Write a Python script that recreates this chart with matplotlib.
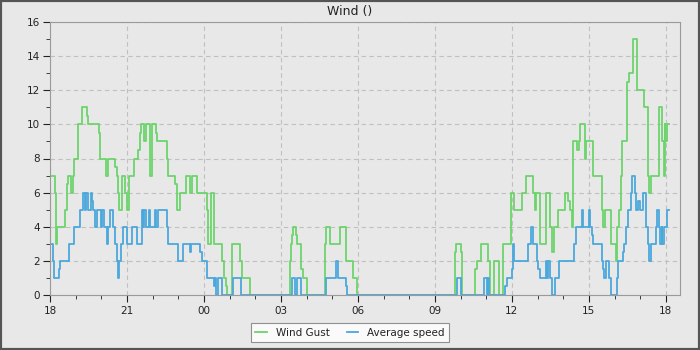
import matplotlib
matplotlib.use('Agg')
import matplotlib.pyplot as plt
import matplotlib.dates as mdates
from matplotlib.patches import Rectangle
import pandas as pd

# change points of the step series (local time, value)
gust_times = ['18:00', '18:12', '18:14', '18:16', '18:35', '18:40', '18:42', '18:49', '18:54', '18:56',
              '19:05', '19:15', '19:26', '19:29', '19:55', '19:57', '20:11', '20:16', '20:32', '20:37',
              '20:39', '20:41', '20:48', '20:55', '21:00', '21:05', '21:16', '21:26', '21:30', '21:33',
              '21:40', '21:44', '21:54', '21:58', '22:08', '22:10', '22:33', '22:36', '22:52', '22:57',
              '23:04', '23:18', '23:27', '23:32', '23:44', '00:07', '00:09', '00:16', '00:23', '00:42',
              '00:47', '00:51', '00:54', '01:05', '01:24', '01:29', '01:47', '03:21', '03:23', '03:26',
              '03:28', '03:35', '03:37', '03:47', '03:51', '04:01', '04:43', '04:45', '04:54', '05:18',
              '05:32', '05:48', '05:57', '09:46', '09:49', '10:00', '10:03', '10:33', '10:38', '10:47',
              '11:04', '11:08', '11:18', '11:29', '11:39', '11:57', '12:04', '12:23', '12:32', '12:49',
              '12:53', '12:56', '13:05', '13:19', '13:28', '13:33', '13:38', '13:47', '14:04', '14:11',
              '14:15', '14:20', '14:22', '14:32', '14:36', '14:39', '14:50', '14:53', '15:09', '15:30',
              '15:32', '15:37', '15:51', '16:03', '16:05', '16:10', '16:15', '16:17', '16:28', '16:33',
              '16:42', '16:52', '17:09', '17:19', '17:20', '17:25', '17:43', '17:52', '17:55', '17:57',
              '17:59', '18:02', '18:07']
gust_values = [7, 6, 3, 4, 5, 6.5, 7, 6, 7, 8,
               10, 11, 10.5, 10, 9.5, 8, 7, 8, 7.5, 7,
               6, 5, 7, 6, 5, 7, 8, 8.5, 9.5, 10,
               9, 10, 7, 10, 9.5, 9, 8, 7, 6.5, 5,
               6, 7, 6, 7, 6, 5, 3, 6, 3, 2,
               1, 0.5, 0, 3, 2, 1, 0, 2, 3, 3.5,
               4, 3.5, 3, 1.5, 1, 0, 3, 4, 3, 4,
               2, 1, 0, 2.5, 3, 2.5, 0, 1.5, 2, 3,
               2, 0, 2, 0, 3, 6, 5, 6, 7, 6,
               5, 6, 3, 6, 4, 2.5, 4, 5, 6, 5.5,
               5, 4, 9, 8.5, 9, 10, 8, 9, 7, 5,
               4, 5, 3, 2, 4, 5, 7, 9, 12.5, 13,
               15, 12, 11, 7, 6, 7, 11, 9, 7, 10,
               9, 10, 10]

avg_times = ['18:00', '18:07', '18:09', '18:21', '18:23', '18:44', '18:56', '19:10', '19:17', '19:22',
             '19:24', '19:29', '19:36', '19:38', '19:40', '19:45', '19:50', '19:59', '20:02', '20:06',
             '20:13', '20:16', '20:20', '20:27', '20:32', '20:37', '20:39', '20:41', '20:46', '20:51',
             '21:00', '21:12', '21:23', '21:35', '21:37', '21:40', '21:44', '21:51', '21:54', '22:05',
             '22:08', '22:12', '22:33', '22:36', '22:59', '23:11', '23:27', '23:30', '23:51', '23:55',
             '00:07', '00:23', '00:26', '00:28', '00:33', '00:42', '01:08', '01:26', '03:26', '03:33',
             '03:37', '03:47', '04:45', '05:09', '05:13', '05:32', '05:34', '09:51', '10:00', '10:54',
             '11:01', '11:04', '11:06', '11:43', '11:48', '12:00', '12:02', '12:04', '12:37', '12:44',
             '12:49', '12:58', '13:00', '13:05', '13:19', '13:21', '13:24', '13:28', '13:33', '13:40',
             '13:49', '14:24', '14:29', '14:43', '14:46', '15:00', '15:02', '15:07', '15:09', '15:30',
             '15:32', '15:35', '15:39', '15:46', '15:51', '16:05', '16:07', '16:19', '16:21', '16:26',
             '16:31', '16:38', '16:40', '16:47', '16:49', '16:54', '16:59', '17:06', '17:13', '17:19',
             '17:20', '17:25', '17:36', '17:39', '17:43', '17:46', '17:50', '17:52', '17:55', '18:02',
             '18:07']
avg_values = [3, 2, 1, 1.5, 2, 3, 4, 5, 6, 5,
              6, 5, 6, 5.5, 5, 4, 5, 4, 5, 4,
              3, 4, 5, 4, 3, 2, 1, 2, 3, 4,
              3, 4, 3, 5, 4, 5, 4, 5, 4, 5,
              4, 5, 4, 3, 2, 3, 2.5, 3, 2.5, 2,
              1, 0.5, 1, 0, 1, 0, 1, 0, 1, 0,
              1, 0, 1, 2, 1, 0.5, 0, 1, 0, 1,
              0, 1, 0, 0.5, 1, 1.5, 3, 2, 3, 4,
              3, 2, 1.5, 1, 2, 1, 2, 1, 0, 1,
              2, 3, 4, 5, 4, 5, 4, 3.5, 3, 2,
              1.5, 1, 2, 1, 0, 1, 2, 2.5, 3, 4,
              5, 6, 7, 6, 5, 5.5, 5, 6, 4, 3,
              2, 3, 4, 5, 4, 3, 4, 3, 4, 5,
              5]

start = pd.Timestamp('2024-01-01 18:00')


def to_datetimes(times):
    # unwrap HH:MM strings past midnight into increasing timestamps
    out = []
    day = 0
    prev = None
    for t in times:
        h, m = map(int, t.split(':'))
        mins = ((h - 18) % 24) * 60 + m + day * 1440
        if prev is not None and mins < prev:
            day += 1
            mins += 1440
        out.append(start + pd.Timedelta(minutes=mins))
        prev = mins
    return out


gust_x = to_datetimes(gust_times)
avg_x = to_datetimes(avg_times)

bg = '#e8e8e8'
fig = plt.figure(figsize=(7, 3.5), dpi=100, facecolor=bg)
ax = fig.add_axes([50/700, 1 - 295/350, 630/700, 273/350])
ax.set_facecolor(bg)

ax.step(gust_x, gust_values, where='post', color='#6cd46c', lw=1.3, label='Wind Gust')
ax.step(avg_x, avg_values, where='post', color='#4aa8dc', lw=1.3, label='Average speed')

ax.set_xlim(start, start + pd.Timedelta(hours=24, minutes=33))
ax.set_ylim(0, 16)
ax.xaxis.set_major_locator(mdates.HourLocator(byhour=range(0, 24, 3)))
ax.xaxis.set_minor_locator(mdates.HourLocator())
ax.xaxis.set_major_formatter(mdates.DateFormatter('%H'))
ax.set_yticks(range(0, 17, 2))
ax.set_yticks(range(0, 17), minor=True)

ax.grid(True, which='major', color='#c0c0c0', linestyle=(0, (4, 3)), lw=0.8)
for s in ax.spines.values():
    s.set_color('#9a9a9a')
ax.tick_params(which='major', length=5, labelsize=7.5, colors='#222222', pad=2)
ax.tick_params(which='minor', length=3, colors='#222222')
ax.tick_params(axis='x', pad=3)

fig.text(0.5, 1 - 11/350, 'Wind ()', ha='center', va='center', fontsize=9, color='#222222')

leg = fig.legend(loc='lower center', bbox_to_anchor=(0.5, 3/350), ncol=2, fontsize=7.5,
                 frameon=True, fancybox=False, edgecolor='#777777', facecolor='white',
                 handlelength=1.1, handletextpad=0.9, columnspacing=1.6, borderpad=0.4)
leg.get_frame().set_linewidth(0.8)
for t in leg.get_texts():
    t.set_color('#222222')

fig.patches.append(Rectangle((0, 0), 1, 1, transform=fig.transFigure, fill=False,
                             edgecolor='#555555', lw=3))

fig.savefig('out.png', dpi=100, facecolor=bg)
